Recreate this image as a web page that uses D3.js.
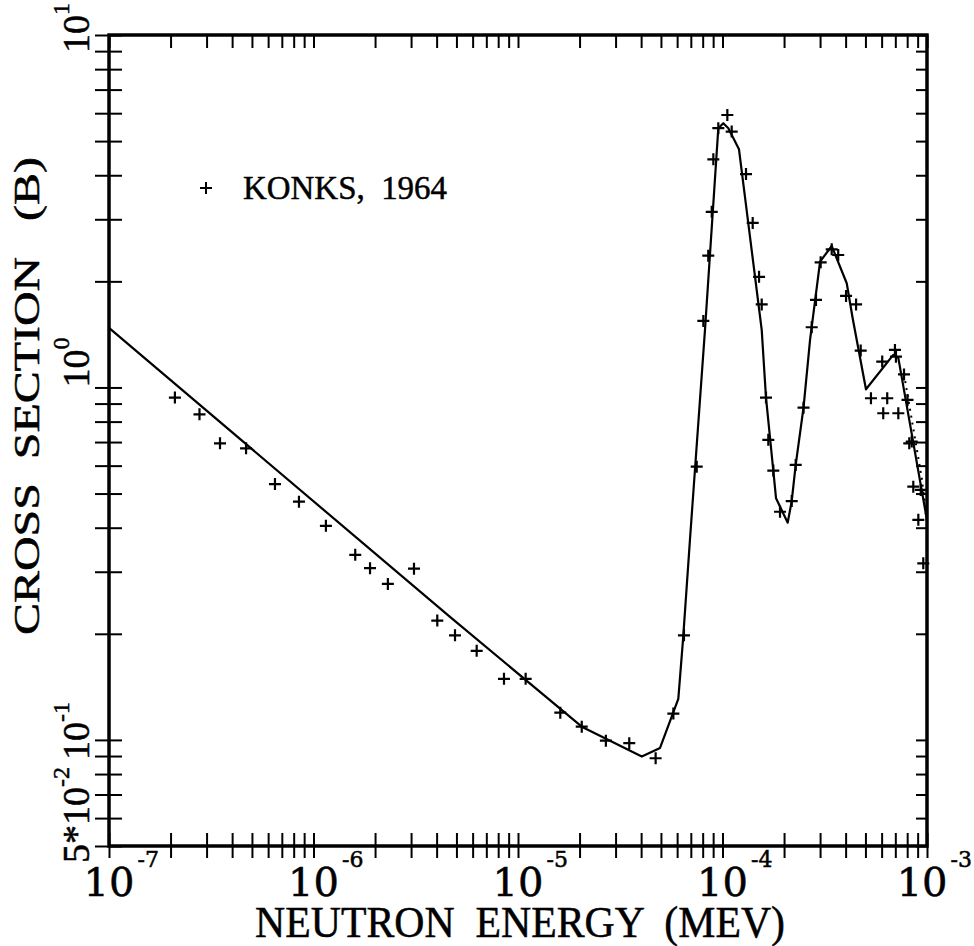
<!DOCTYPE html>
<html>
<head>
<meta charset="utf-8">
<script src="https://cdn.jsdelivr.net/npm/d3@7"></script>
<style>
    body { margin: 0; background: #fff; }
    svg { display: block; }
    text { fill: #000; stroke: #000; stroke-width: 0.5; }
</style>
</head>
<body>
<svg id="chart" width="974" height="946"></svg>
<script>
// Konks, 1964 measured points (energy in MeV, cross section in b)
var konksE = [2.10e-7, 2.77e-7, 3.49e-7, 4.68e-7, 6.48e-7, 8.49e-7, 1.15e-6, 1.60e-6, 1.89e-6, 2.31e-6,
    3.10e-6, 4.03e-6, 4.92e-6, 6.28e-6, 8.54e-6, 1.09e-5, 1.61e-5, 2.05e-5, 2.69e-5, 3.50e-5,
    4.71e-5, 5.75e-5, 6.48e-5, 7.48e-5, 8.06e-5, 8.52e-5, 8.86e-5, 9.02e-5, 9.54e-5, 1.056e-4,
    1.109e-4, 1.303e-4, 1.405e-4, 1.509e-4, 1.555e-4, 1.632e-4, 1.675e-4, 1.772e-4, 1.911e-4, 2.18e-4,
    2.28e-4, 2.49e-4, 2.73e-4, 2.865e-4, 3.02e-4, 3.42e-4, 3.68e-4, 4.02e-4, 4.50e-4, 4.74e-4,
    5.32e-4, 6.04e-4, 6.11e-4, 6.39e-4, 6.97e-4, 7.05e-4, 7.24e-4, 7.72e-4, 8.03e-4, 8.19e-4,
    8.42e-4, 8.57e-4, 9.07e-4, 9.32e-4, 9.59e-4];
var konksXS = [0.936, 0.839, 0.694, 0.672, 0.532, 0.474, 0.405, 0.335, 0.307, 0.277,
    0.306, 0.218, 0.198, 0.179, 0.149, 0.149, 0.1195, 0.109, 0.0995, 0.0979,
    0.0887, 0.1188, 0.198, 0.596, 1.544, 2.365, 3.15, 4.44, 5.44, 5.93,
    5.32, 4.03, 2.93, 2.06, 1.72, 0.936, 0.710, 0.581, 0.444, 0.476,
    0.603, 0.876, 1.482, 1.771, 2.265, 2.466, 2.376, 1.818, 1.72, 1.272,
    0.932, 1.184, 0.845, 0.932, 1.278, 1.223, 0.845, 1.089, 0.922, 0.694,
    0.702, 0.523, 0.421, 0.512, 0.317];

// evaluated curve (solid)
var evalE = [1e-7, 4.65e-6, 2.05e-5, 4.03e-5, 4.95e-5, 6.08e-5, 6.41e-5, 6.93e-5, 8.21e-5, 9.54e-5,
    1.009e-4, 1.068e-4, 1.204e-4, 1.555e-4, 1.632e-4, 1.772e-4, 1.827e-4, 2.084e-4, 2.18e-4, 2.28e-4,
    2.49e-4, 2.68e-4, 3.00e-4, 3.42e-4, 4.05e-4, 4.33e-4, 5.03e-4, 6.84e-4, 7.24e-4, 1e-3];
var evalXS = [1.475, 0.2233, 0.109, 0.0897, 0.0949, 0.1307, 0.1922, 0.369, 1.456, 5.44,
    5.62, 5.44, 4.74, 1.456, 0.936, 0.581, 0.485, 0.4134, 0.476, 0.603,
    0.876, 1.364, 2.275, 2.52, 1.975, 1.572, 0.988, 1.237, 1.213, 0.42];

// second curve (dotted, near the upper end)
var altE = [7.72e-4, 8.27e-4, 8.93e-4, 9.45e-4, 9.88e-4];
var altXS = [1.09, 0.863, 0.665, 0.547, 0.435];

// tick labels
var xLabelValues = [1e-7, 1e-6, 1e-5, 1e-4, 1e-3];
var xLabelExps = ["-7", "-6", "-5", "-4", "-3"];
var yLabelValues = [0.05, 0.1, 1, 10];
var yLabelMant = ["5*10", "10", "10", "10"];
var yLabelExps = ["-2", "-1", "0", "1"];

var legendText = "KONKS,  1964";
var xTitle = "NEUTRON  ENERGY  (MEV)";
var yTitle = "CROSS  SECTION   (B)";


var svg = d3.select("#chart");
var plotL = 109, plotR = 927, plotT = 35, plotB = 846;

var x = d3.scaleLog().domain([1e-7, 1e-3]).range([plotL, plotR]);
var y = d3.scaleLog().domain([0.05, 10]).range([plotB, plotT]);

function addAxis(axis, tx, ty) {
    svg.append("g")
        .attr("transform", "translate(" + tx + "," + ty + ")")
        .call(axis.tickFormat(""))
        .call(function (g) {
            g.select(".domain").remove();
            g.selectAll("line").attr("stroke", "#000").attr("stroke-width", 2);
        });
}

var xt = x.ticks();
var yt = y.ticks();

// ticks cross the bottom and left axes, point inward on top and right
addAxis(d3.axisBottom(x).tickValues(xt).tickSize(12), 0, plotB);
addAxis(d3.axisBottom(x).tickValues(xt).tickSize(-13), 0, plotB);
addAxis(d3.axisTop(x).tickValues(xt).tickSize(-13), 0, plotT);
addAxis(d3.axisLeft(y).tickValues(yt).tickSize(14), plotL, 0);
addAxis(d3.axisLeft(y).tickValues(yt).tickSize(-13), plotL, 0);
addAxis(d3.axisRight(y).tickValues(yt).tickSize(-11), plotR, 0);

svg.append("rect")
    .attr("x", plotL).attr("y", plotT)
    .attr("width", plotR - plotL).attr("height", plotB - plotT)
    .attr("fill", "none").attr("stroke", "#000").attr("stroke-width", 3.5);

// curves
var line = d3.line()
    .x(function (d) { return x(d[0]); })
    .y(function (d) { return y(d[1]); });

svg.append("path")
    .datum(d3.zip(evalE, evalXS))
    .attr("d", line)
    .attr("fill", "none").attr("stroke", "#000").attr("stroke-width", 2.2)
    .attr("stroke-linejoin", "round");

svg.append("path")
    .datum(d3.zip(altE, altXS))
    .attr("d", line)
    .attr("fill", "none").attr("stroke", "#000").attr("stroke-width", 2)
    .attr("stroke-dasharray", "2,5");

// markers
var cross = "M-6,0H6M0,-6V6";
svg.selectAll(".konks")
    .data(d3.zip(konksE, konksXS))
    .enter().append("path")
    .classed("konks", true)
    .attr("d", cross)
    .attr("transform", function (d) { return "translate(" + x(d[0]) + "," + y(d[1]) + ")"; })
    .attr("stroke", "#000").attr("stroke-width", 2.2).attr("fill", "none");

// legend
svg.append("path").attr("d", "M-6,0H6M0,-6V6")
    .attr("transform", "translate(206,188)")
    .attr("stroke", "#000").attr("stroke-width", 2);
svg.append("text")
    .attr("x", 243).attr("y", 199)
    .attr("font-family", "Liberation Serif").attr("font-size", 34)
    .attr("textLength", 204).attr("lengthAdjust", "spacingAndGlyphs")
    .style("white-space", "pre")
    .text(legendText);

// x tick labels: "10" centred on the tick, exponent to its upper right
xLabelValues.forEach(function (v, i) {
    var base = svg.append("text")
        .attr("x", x(v)).attr("y", 896)
        .attr("text-anchor", "middle")
        .attr("font-family", "DejaVu Serif").attr("font-size", 40)
        .text("10");
    var w = base.node().getComputedTextLength();
    var ex = svg.append("text")
        .attr("x", x(v) + w / 2 + 3).attr("y", 867)
        .attr("font-family", "DejaVu Serif").attr("font-size", 22)
        .text(xLabelExps[i]);
    // keep the last label inside the page
    var over = x(v) + w / 2 + 3 + ex.node().getComputedTextLength() - 972;
    if (over > 0) {
        base.attr("x", x(v) - over);
        ex.attr("x", x(v) + w / 2 + 3 - over);
    }
});

// y tick labels (rotated)
var yLabelStart = [-17, -20, 0, -18];
yLabelValues.forEach(function (v, i) {
    var t = svg.append("text")
        .attr("transform", "translate(89," + y(v) + ") rotate(-90)")
        .attr("x", yLabelStart[i]).attr("y", 0)
        .attr("font-family", "Liberation Serif").attr("font-size", 38);
    t.append("tspan").text(yLabelMant[i]);
    t.append("tspan").attr("dy", -20).attr("font-size", 24).text(yLabelExps[i]);
});

// axis titles
svg.append("text")
    .attr("x", 520).attr("y", 937)
    .attr("text-anchor", "middle")
    .attr("font-family", "Liberation Serif").attr("font-size", 44)
    .attr("textLength", 530).attr("lengthAdjust", "spacingAndGlyphs")
    .style("white-space", "pre")
    .text(xTitle);

svg.append("text")
    .attr("transform", "translate(39,396) rotate(-90)")
    .attr("text-anchor", "middle")
    .attr("font-family", "Liberation Serif").attr("font-size", 35)
    .attr("textLength", 478).attr("lengthAdjust", "spacingAndGlyphs")
    .style("white-space", "pre")
    .text(yTitle);
</script>
</body>
</html>
